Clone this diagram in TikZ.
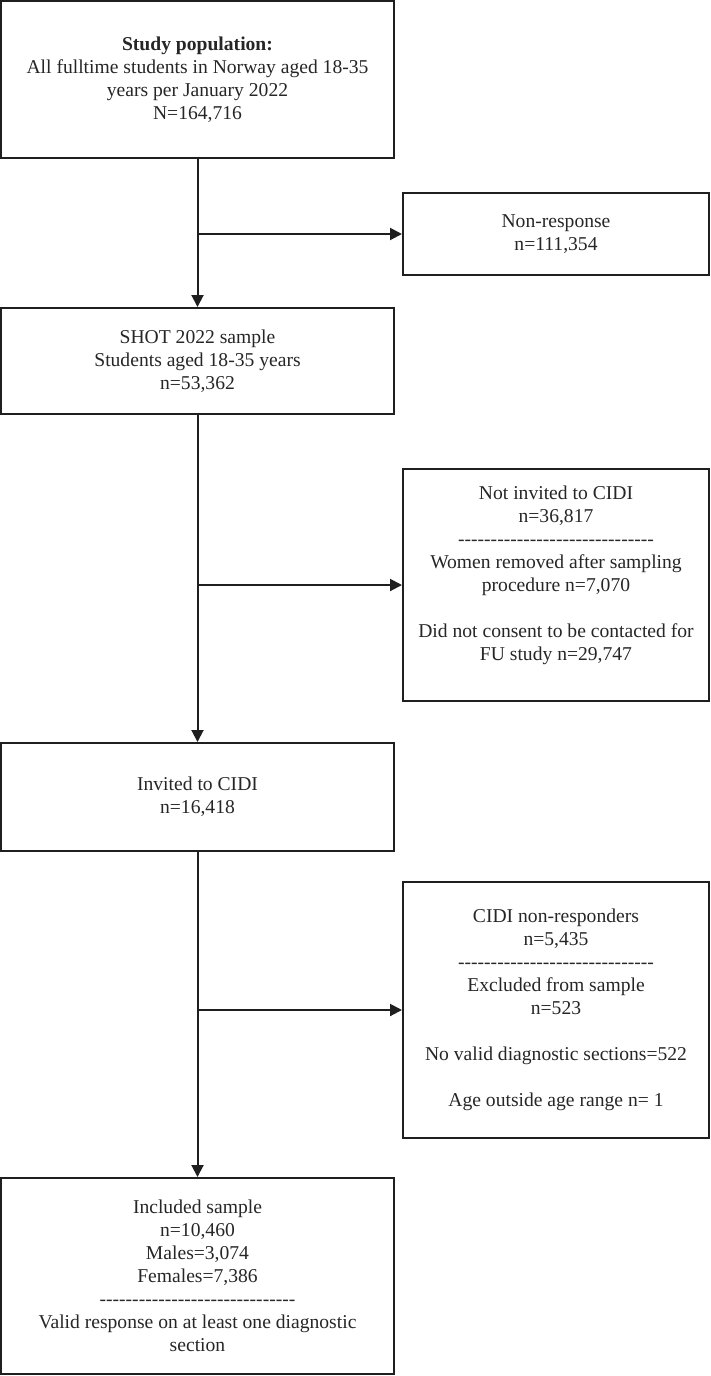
\documentclass[tikz,border=0pt]{standalone}
\usepackage{fontspec}
\setmainfont{Liberation Serif}
\usetikzlibrary{arrows.meta}
\newcommand{\dashrow}{-{}-{}-{}-{}-{}-{}-{}-{}-{}-{}-{}-{}-{}-{}-{}-{}-{}-{}-{}-{}-{}-{}-{}-{}-{}-{}-{}-{}-{}-{}}
\tikzset{
  flowbox/.style={draw=black!88, line width=2pt, rectangle, align=center, inner sep=0pt,
    font=\fontsize{19.6}{23}\selectfont, text=black!85},
  leftbox/.style={flowbox, minimum width=393pt},
  rightbox/.style={flowbox, minimum width=306pt},
  flowarrow/.style={draw=black!88, line width=2pt, -{Triangle[length=12pt,width=12pt]}},
}
\begin{document}
\begin{tikzpicture}[x=1pt,y=-1pt]
\useasboundingbox (0,0) rectangle (710,1376);
\node[leftbox, minimum height=157pt] (pop) at (197.5,79.5)
  {\textbf{Study population:}\\All fulltime students in Norway aged 18-35\\years per January 2022\\N=164,716};
\node[rightbox, minimum height=82pt] (nonresp) at (556,234)
  {Non-response\\n=111,354};
\node[leftbox, minimum height=106pt] (shot) at (197.5,361)
  {SHOT 2022 sample\\Students aged 18-35 years\\n=53,362};
\node[rightbox, minimum height=232pt] (notinv) at (556,585)
  {Not invited to CIDI\\n=36,817\\\dashrow\\Women removed after sampling\\procedure n=7,070\\[23pt]Did not consent to be contacted for\\FU study n=29,747\\\mbox{}};
\node[leftbox, minimum height=108pt] (inv) at (197.5,797)
  {Invited to CIDI\\n=16,418};
\node[rightbox, minimum height=256pt] (cidinr) at (556,1010)
  {CIDI non-responders\\n=5,435\\\dashrow\\Excluded from sample\\n=523\\[23pt]No valid diagnostic sections=522\\[23pt]Age outside age range n= 1};
\node[leftbox, minimum height=196pt] (incl) at (197.5,1276)
  {Included sample\\n=10,460\\Males=3,074\\Females=7,386\\\dashrow\\Valid response on at least one diagnostic\\section};

\draw[flowarrow] (pop.south) -- (shot.north);
\draw[flowarrow] (pop.south |- nonresp.west) -- (nonresp.west);
\draw[flowarrow] (shot.south) -- (inv.north);
\draw[flowarrow] (shot.south |- notinv.west) -- (notinv.west);
\draw[flowarrow] (inv.south) -- (incl.north);
\draw[flowarrow] (inv.south |- cidinr.west) -- (cidinr.west);
\end{tikzpicture}
\end{document}
